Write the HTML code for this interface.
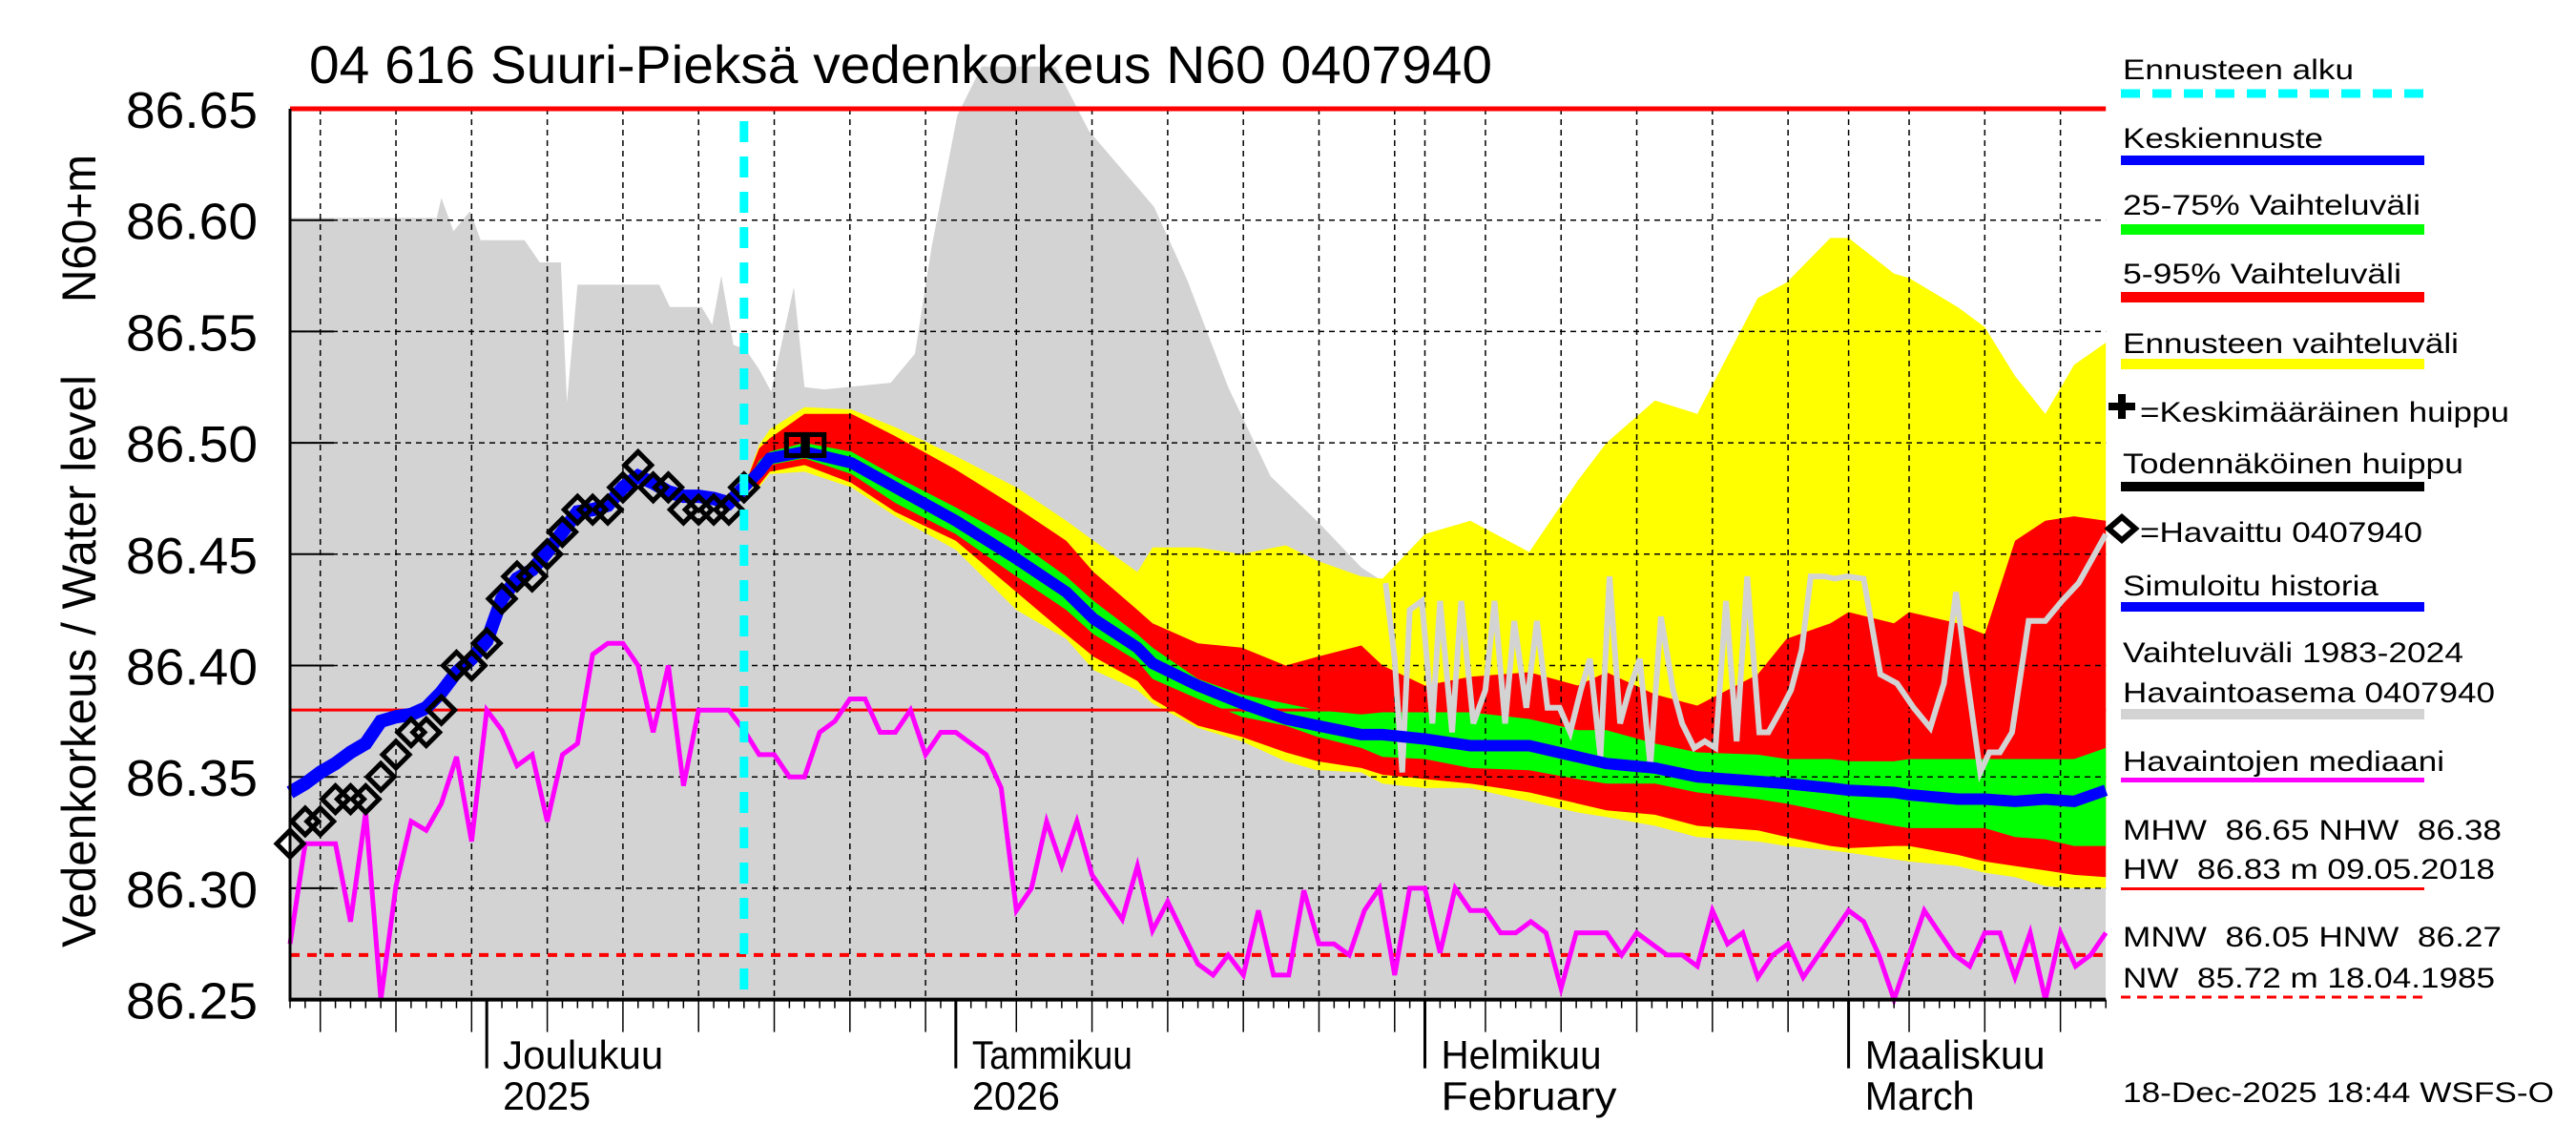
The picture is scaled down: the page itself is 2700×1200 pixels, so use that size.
<!DOCTYPE html>
<html><head><meta charset="utf-8"><style>
html,body{margin:0;padding:0;background:#fff;}
svg{display:block;font-family:"Liberation Sans",sans-serif;}
</style></head><body>
<svg id="chart" xmlns="http://www.w3.org/2000/svg" width="2700" height="1200" viewBox="0 0 2700 1200">
<rect x="0" y="0" width="2700" height="1200" fill="#fff"/>
<g id="plot"></g>
<text x="324" y="87" font-size="56" textLength="1240" lengthAdjust="spacingAndGlyphs">04 616 Suuri-Pieksä vedenkorkeus N60 0407940</text>
<text transform="translate(100,993) rotate(-90)" font-size="50" textLength="600" lengthAdjust="spacingAndGlyphs">Vedenkorkeus / Water level</text>
<text transform="translate(100,317) rotate(-90)" font-size="50" textLength="155" lengthAdjust="spacingAndGlyphs">N60+m</text>
<g id="legend" font-size="30">
 <text x="2225" y="83" textLength="242" lengthAdjust="spacingAndGlyphs">Ennusteen alku</text>
 <line x1="2223" y1="98" x2="2541" y2="98" stroke="#00ffff" stroke-width="9" stroke-dasharray="20,13"/>
 <text x="2225" y="155" textLength="210" lengthAdjust="spacingAndGlyphs">Keskiennuste</text>
 <rect x="2223" y="163" width="318" height="10" fill="#0000ff"/>
 <text x="2225" y="225" textLength="312" lengthAdjust="spacingAndGlyphs">25-75% Vaihteluväli</text>
 <rect x="2223" y="235" width="318" height="11" fill="#00ff00"/>
 <text x="2225" y="297" textLength="292" lengthAdjust="spacingAndGlyphs">5-95% Vaihteluväli</text>
 <rect x="2223" y="306" width="318" height="11" fill="#ff0000"/>
 <text x="2225" y="370" textLength="352" lengthAdjust="spacingAndGlyphs">Ennusteen vaihteluväli</text>
 <rect x="2223" y="376" width="318" height="11" fill="#ffff00"/>
 <path d="M2210 426 H2238 M2224 413 V439" stroke="#000" stroke-width="8"/>
 <text x="2243" y="442" textLength="387" lengthAdjust="spacingAndGlyphs">=Keskimääräinen huippu</text>
 <text x="2225" y="496" textLength="357" lengthAdjust="spacingAndGlyphs">Todennäköinen huippu</text>
 <rect x="2223" y="505" width="318" height="10" fill="#000"/>
 <path d="M2210 554 L2224 542 L2238 554 L2224 566 Z" fill="none" stroke="#000" stroke-width="6"/>
 <text x="2243" y="568" textLength="296" lengthAdjust="spacingAndGlyphs">=Havaittu 0407940</text>
 <text x="2225" y="624" textLength="268" lengthAdjust="spacingAndGlyphs">Simuloitu historia</text>
 <rect x="2223" y="631" width="318" height="10" fill="#0000ff"/>
 <text x="2225" y="694" textLength="357" lengthAdjust="spacingAndGlyphs">Vaihteluväli 1983-2024</text>
 <text x="2225" y="736" textLength="390" lengthAdjust="spacingAndGlyphs">Havaintoasema 0407940</text>
 <rect x="2223" y="743" width="318" height="11" fill="#d3d3d3"/>
 <text x="2225" y="808" textLength="337" lengthAdjust="spacingAndGlyphs">Havaintojen mediaani</text>
 <rect x="2223" y="815" width="318" height="5" fill="#ff00ff"/>
 <text x="2225" y="880" textLength="397" lengthAdjust="spacingAndGlyphs" xml:space="preserve">MHW  86.65 NHW  86.38</text>
 <text x="2225" y="921" textLength="390" lengthAdjust="spacingAndGlyphs" xml:space="preserve">HW  86.83 m 09.05.2018</text>
 <rect x="2223" y="930" width="318" height="3" fill="#ff0000"/>
 <text x="2225" y="992" textLength="397" lengthAdjust="spacingAndGlyphs" xml:space="preserve">MNW  86.05 HNW  86.27</text>
 <text x="2225" y="1035" textLength="390" lengthAdjust="spacingAndGlyphs" xml:space="preserve">NW  85.72 m 18.04.1985</text>
 <line x1="2223" y1="1045" x2="2541" y2="1045" stroke="#ff0000" stroke-width="3" stroke-dasharray="10,7"/>
 <text x="2225" y="1155" textLength="452" lengthAdjust="spacingAndGlyphs">18-Dec-2025 18:44 WSFS-O</text>
</g>
</svg>
<script>
// ---- data ----
const histDays = [0,9.7,10,10.8,11.9,12.6,15.5,16.5,17.9,18.3,19,24.4,25.1,27.2,27.9,28.5,29.3,30.1,31,31.8,33.3,34,35.3,39.7,41.3,42.4,44.1,45.7,50.6,52.8,57.1,59.3,62,64.8,68,70.8,72.4,73,73.5,74,74.8,75.5,76,76.8,77.4,78.2,79,79.6,80.3,80.9,81.7,82.4,83.1,83.9,84.6,85.3,85.9,86.6,87.2,87.9,88.5,89.2,89.9,90.6,91.4,92,92.8,93.5,94.2,94.9,95.6,96.3,97.1,97.7,98.6,99.2,99.9,100.5,101.4,102.1,102.9,104,105.1,106.2,107.3,108.4,109.3,110.1,110.8,111.7,112.3,113,113.8,114.9,116,117.1,118.2,120];
const histMax = [86.601,86.601,86.610,86.595,86.604,86.591,86.591,86.581,86.581,86.518,86.571,86.571,86.561,86.561,86.553,86.575,86.544,86.542,86.533,86.523,86.570,86.525,86.524,86.527,86.540,86.588,86.647,86.669,86.669,86.640,86.606,86.573,86.525,86.485,86.464,86.444,86.437,86.403,86.352,86.425,86.429,86.374,86.429,86.370,86.429,86.374,86.389,86.429,86.374,86.420,86.381,86.420,86.381,86.381,86.370,86.389,86.403,86.359,86.440,86.374,86.389,86.403,86.355,86.422,86.389,86.374,86.363,86.366,86.363,86.429,86.366,86.440,86.370,86.370,86.381,86.389,86.407,86.440,86.440,86.439,86.440,86.439,86.396,86.392,86.381,86.372,86.392,86.433,86.396,86.352,86.361,86.361,86.370,86.420,86.420,86.429,86.437,86.459];

const fcDays = [30,31,31.7,34,37.1,40,44,48,51.3,53.1,56,57,60,62.9,65.8,67.9,70.8,72.2,75,78,81.9,85.1,87,90.2,93,97,98.9,101.8,103,106,107,110.2,112,114,116,117.9,120];
const yellowTop = [86.480,86.499,86.506,86.516,86.515,86.507,86.494,86.480,86.465,86.456,86.442,86.453,86.453,86.450,86.454,86.447,86.440,86.439,86.459,86.465,86.451,86.483,86.500,86.519,86.513,86.565,86.572,86.592,86.592,86.576,86.574,86.561,86.552,86.530,86.513,86.535,86.545];
const redTop = [86.480,86.4975,86.502,86.513,86.513,86.503,86.488,86.471,86.456,86.442,86.425,86.419,86.410,86.408,86.400,86.404,86.409,86.400,86.391,86.395,86.397,86.391,86.397,86.387,86.382,86.396,86.412,86.419,86.424,86.419,86.424,86.419,86.414,86.456,86.465,86.467,86.465];
const greenTop = [86.480,86.492,86.496,86.500,86.496,86.485,86.471,86.456,86.440,86.429,86.414,86.408,86.394,86.387,86.383,86.380,86.378,86.379,86.379,86.379,86.376,86.371,86.371,86.365,86.361,86.360,86.358,86.358,86.357,86.357,86.358,86.358,86.358,86.358,86.358,86.358,86.363];
const meanForecast = [86.480,86.487,86.493,86.496,86.491,86.480,86.465,86.448,86.433,86.421,86.408,86.401,86.391,86.383,86.376,86.373,86.369,86.369,86.367,86.364,86.364,86.359,86.356,86.354,86.350,86.348,86.347,86.345,86.344,86.343,86.342,86.340,86.340,86.339,86.340,86.339,86.344];
const greenBot = [86.480,86.484,86.490,86.493,86.486,86.473,86.459,86.440,86.425,86.414,86.402,86.394,86.385,86.377,86.373,86.368,86.363,86.359,86.358,86.354,86.353,86.349,86.347,86.347,86.343,86.340,86.338,86.334,86.332,86.328,86.327,86.327,86.327,86.323,86.322,86.319,86.319];
const redBot = [86.480,86.481,86.487,86.490,86.482,86.469,86.456,86.433,86.414,86.404,86.393,86.385,86.373,86.368,86.361,86.357,86.354,86.351,86.349,86.347,86.343,86.338,86.335,86.333,86.328,86.326,86.323,86.319,86.318,86.319,86.319,86.315,86.312,86.310,86.308,86.306,86.305];
const yellowBot = [86.480,86.480,86.486,86.487,86.480,86.467,86.452,86.425,86.412,86.398,86.389,86.383,86.372,86.366,86.357,86.353,86.352,86.347,86.345,86.345,86.339,86.334,86.332,86.328,86.323,86.321,86.319,86.317,86.316,86.313,86.312,86.310,86.307,86.305,86.301,86.300,86.300];

const observed = [86.32,86.33,86.33,86.34,86.34,86.34,86.35,86.36,86.37,86.37,86.38,86.40,86.40,86.41,86.43,86.44,86.44,86.45,86.46,86.47,86.47,86.47,86.48,86.49,86.48,86.48,86.47,86.47,86.47,86.47,86.48];
const simHistory = [86.343,86.347,86.352,86.356,86.361,86.365,86.375,86.377,86.378,86.381,86.388,86.397,86.403,86.411,86.430,86.439,86.443,86.451,86.460,86.469,86.470,86.472,86.480,86.485,86.482,86.478,86.476,86.476,86.475,86.473,86.480];
const peakDays = [33.5,34.6];
const peakValues = [86.499,86.499];
const median = [86.275,86.320,86.320,86.320,86.285,86.334,86.250,86.301,86.330,86.326,86.338,86.359,86.321,86.380,86.371,86.355,86.360,86.330,86.360,86.365,86.405,86.410,86.410,86.400,86.370,86.400,86.346,86.380,86.380,86.380,86.371,86.360,86.360,86.350,86.350,86.370,86.375,86.385,86.385,86.370,86.370,86.380,86.360,86.370,86.370,86.365,86.360,86.345,86.290,86.300,86.330,86.310,86.330,86.306,86.296,86.286,86.310,86.281,86.294,86.280,86.266,86.261,86.270,86.261,86.290,86.261,86.261,86.299,86.275,86.275,86.270,86.290,86.300,86.261,86.300,86.300,86.271,86.300,86.290,86.290,86.280,86.280,86.285,86.280,86.255,86.280,86.280,86.280,86.270,86.280,86.275,86.270,86.270,86.265,86.290,86.275,86.280,86.260,86.270,86.275,86.260,86.270,86.280,86.290,86.285,86.270,86.250,86.270,86.290,86.280,86.270,86.265,86.280,86.280,86.260,86.280,86.250,86.280,86.265,86.270,86.280];

const yTicks = [86.25,86.30,86.35,86.40,86.45,86.50,86.55,86.60,86.65];
const yTickLabels = ["86.25","86.30","86.35","86.40","86.45","86.50","86.55","86.60","86.65"];
const gridDays = [2,7,12,17,22,27,32,37,42,48,53,58,63,68,73,75,79,84,89,94,99,103,107,112,117];
const monthDays = [13,44,75,103];
const monthLabels1 = ["Joulukuu","Tammikuu","Helmikuu","Maaliskuu"];
const monthLabels2 = ["2025","2026","February","March"];
const forecastStartDay = 30;
const refMHW = 86.65, refNHW = 86.38, refHNW = 86.27;

// ---- axes ----
const X0 = 304, PXD = 15.86, XMAX = 120;
const X = d => X0 + PXD * d;
const Y = v => 114 + (86.65 - v) / 0.05 * 116.7;
const YB = Y(86.25);
const NS = "http://www.w3.org/2000/svg";
const plot = document.getElementById('plot');
function mk(tag, attrs, parent) {
  const e = document.createElementNS(NS, tag);
  for (const k in attrs) e.setAttribute(k, attrs[k]);
  (parent || plot).appendChild(e);
  return e;
}
function pts(days, vals) { return days.map((d, i) => X(d).toFixed(1) + ',' + Y(vals[i]).toFixed(1)).join(' '); }
const dailyDays = n => Array.from({length: n}, (_, i) => i);

// clip for plot
const defs = mk('defs', {});
const cp = mk('clipPath', {id: 'pc'}, defs);
mk('rect', {x: X0, y: 60, width: X(XMAX) - X0, height: YB - 60}, cp);

// history grey area
let e = mk('polygon', {points: pts(histDays, histMax) + ` ${X(XMAX)},${YB} ${X0},${YB}`, fill: '#d3d3d3', 'clip-path': 'url(#pc)'});



// forecast bands
function band(top, bot, color, name) {
  const rb = fcDays.slice().reverse(), rv = bot.slice().reverse();
  const el = mk('polygon', {points: pts(fcDays, top) + ' ' + pts(rb, rv), fill: color});
  
  
}
band(yellowTop, yellowBot, '#ffff00', 'forecast-range-band');
band(redTop, redBot, '#ff0000', 'band-5-95');
band(greenTop, greenBot, '#00ff00', 'band-25-75');

// gridlines
yTicks.forEach((v, i) => {
  if (i > 0 && i < yTicks.length - 1) {
    const g = mk('line', {x1: X0, x2: X(XMAX), y1: Y(v), y2: Y(v), stroke: '#000', 'stroke-width': 1.5, 'stroke-dasharray': '6,5'});
    
    
  }
  const t = mk('line', {x1: X0, x2: X0 + 46, y1: Y(v), y2: Y(v), stroke: '#000', 'stroke-width': 2});
  
  
  const lb = mk('text', {x: 132, y: Y(v) + 20, 'font-size': 54, textLength: 138, lengthAdjust: 'spacingAndGlyphs'});
  lb.textContent = yTickLabels[i];
  
  
});
gridDays.forEach(d => {
  const g = mk('line', {x1: X(d), x2: X(d), y1: 114, y2: YB, stroke: '#000', 'stroke-width': 1.5, 'stroke-dasharray': '6,5'});
  
  
});

// reference lines
e = mk('line', {x1: X0, x2: X(XMAX), y1: Y(refNHW), y2: Y(refNHW), stroke: '#ff0000', 'stroke-width': 3});


e = mk('line', {x1: X0, x2: X(XMAX), y1: Y(refHNW), y2: Y(refHNW), stroke: '#ff0000', 'stroke-width': 4, 'stroke-dasharray': '10,8'});



// jagged history line on top of bands
const jStart = histDays.findIndex(d => d >= 72);
e = mk('polyline', {points: pts(histDays.slice(jStart), histMax.slice(jStart)), fill: 'none', stroke: '#d3d3d3', 'stroke-width': 6, 'stroke-linejoin': 'miter'});



// median
e = mk('polyline', {points: pts(dailyDays(median.length), median), fill: 'none', stroke: '#ff00ff', 'stroke-width': 5});



// top MHW line
e = mk('line', {x1: X0, x2: X(XMAX), y1: Y(refMHW), y2: Y(refMHW), stroke: '#ff0000', 'stroke-width': 5});



// simulated history + mean forecast
e = mk('polyline', {points: pts(dailyDays(simHistory.length), simHistory), fill: 'none', stroke: '#0000ff', 'stroke-width': 14});


e = mk('polyline', {points: pts(fcDays, meanForecast), fill: 'none', stroke: '#0000ff', 'stroke-width': 12});



// observed diamonds
observed.forEach((v, i) => {
  const cx = X(i), cy = Y(v), r = 14;
  const dm = mk('path', {d: `M${cx - r} ${cy} L${cx} ${cy - r} L${cx + r} ${cy} L${cx} ${cy + r} Z`, fill: 'none', stroke: '#000', 'stroke-width': 5});
  
  
});
// probable peak squares
peakDays.forEach((d, i) => {
  const cx = X(d), cy = Y(peakValues[i]);
  const sq = mk('rect', {x: cx - 11, y: cy - 11, width: 22, height: 22, fill: 'none', stroke: '#000', 'stroke-width': 5});
  
  
});

// forecast start
e = mk('line', {x1: X(forecastStartDay), x2: X(forecastStartDay), y1: 127, y2: YB, stroke: '#00ffff', 'stroke-width': 9, 'stroke-dasharray': '22,15'});



// axes
e = mk('line', {x1: X0, x2: X0, y1: 114, y2: YB + 2, stroke: '#000', 'stroke-width': 3});


e = mk('line', {x1: X0, x2: X(XMAX), y1: YB, y2: YB, stroke: '#000', 'stroke-width': 4});


for (let d = 0; d <= XMAX; d++) {
  const isMonth = monthDays.includes(d), isGrid = gridDays.includes(d);
  const len = isMonth ? 72 : (isGrid ? 34 : 9);
  const tk = mk('line', {x1: X(d), x2: X(d), y1: YB, y2: YB + len, stroke: '#000', 'stroke-width': isMonth ? 3 : 1.5});
  
  
}
monthDays.forEach((d, i) => {
  const t1 = mk('text', {x: X(d) + 17, y: 1120, 'font-size': 42, textLength: monthLabels1[i].length * 21, lengthAdjust: 'spacingAndGlyphs'});
  t1.textContent = monthLabels1[i];
  
  
  const t2 = mk('text', {x: X(d) + 17, y: 1163, 'font-size': 42, textLength: monthLabels2[i].length * 23, lengthAdjust: 'spacingAndGlyphs'});
  t2.textContent = monthLabels2[i];
  
  
});
</script>
</body></html>
